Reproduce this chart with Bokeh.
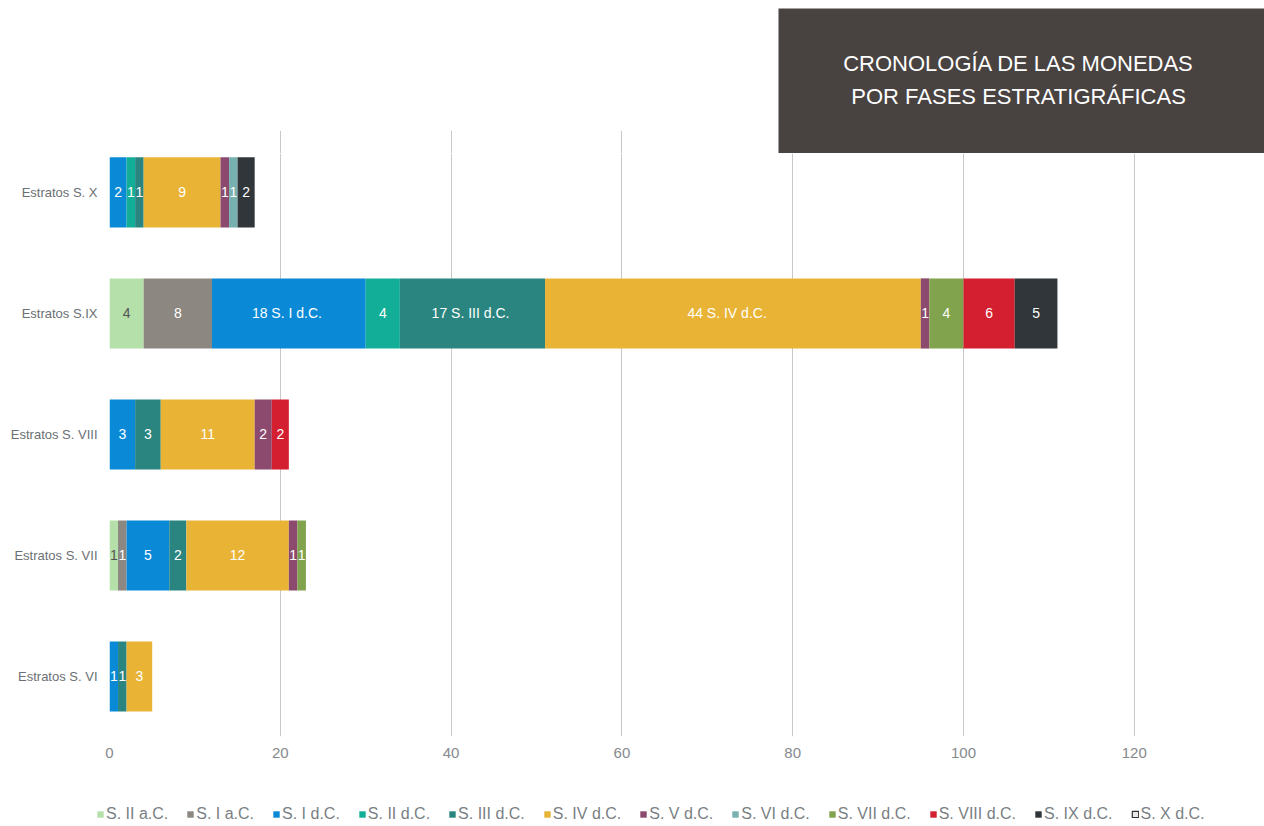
from bokeh.plotting import figure
from bokeh.models import (Range1d, Legend, LegendItem, FixedTicker, Spacer, ColumnDataSource, Grid)
from bokeh.layouts import column, row
from bokeh.core.properties import value
from bokeh.embed import file_html
from bokeh.resources import INLINE

FONT = "Liberation Sans"
BOX = "#484240"
GRID = "#c8c8c8"

categories = ["Estratos S. VI", "Estratos S. VII", "Estratos S. VIII", "Estratos S.IX", "Estratos S. X"]
series = ["S. II a.C.", "S. I a.C.", "S. I d.C.", "S. II d.C.", "S. III d.C.", "S. IV d.C.",
          "S. V d.C.", "S. VI d.C.", "S. VII d.C.", "S. VIII d.C.", "S. IX d.C.", "S. X d.C."]
colors = ["#b5e0a9", "#8c8781", "#0a8ad6", "#13ae97", "#2a8580", "#e9b436",
          "#8c4a6e", "#78b0b0", "#82a34d", "#d31f2f", "#31363a", "#e8e8e8"]
label_colors = ["#555555"] + ["#ffffff"] * 11

# values per series, in category order (S. VI, S. VII, S. VIII, S.IX, S. X)
s_ii_ac = [0, 1, 0, 4, 0]
s_i_ac = [0, 1, 0, 8, 0]
s_i_dc = [1, 5, 3, 18, 2]
s_ii_dc = [0, 0, 0, 4, 1]
s_iii_dc = [1, 2, 3, 17, 1]
s_iv_dc = [3, 12, 11, 44, 9]
s_v_dc = [0, 1, 2, 1, 1]
s_vi_dc = [0, 0, 0, 0, 1]
s_vii_dc = [0, 1, 0, 4, 0]
s_viii_dc = [0, 0, 2, 6, 0]
s_ix_dc = [0, 0, 0, 5, 2]
s_x_dc = [0, 0, 0, 0, 0]
values = [s_ii_ac, s_i_ac, s_i_dc, s_ii_dc, s_iii_dc, s_iv_dc,
          s_v_dc, s_vi_dc, s_vii_dc, s_viii_dc, s_ix_dc, s_x_dc]

# segments whose data label also shows the series name
named_category = "Estratos S.IX"
named_series = {"S. I d.C.": "  ", "S. III d.C.": "  ", "S. IV d.C.": "    "}

title_lines = ["CRONOLOGÍA DE LAS MONEDAS", "POR FASES ESTRATIGRÁFICAS"]
x_ticks = [0, 20, 40, 60, 80, 100, 120]

PX_PER_UNIT = 8.54

# ---------------- title box ----------------
tf = figure(width=486, height=145, x_range=Range1d(0, 1), y_range=Range1d(0, 1),
            output_backend="svg", toolbar_location=None, min_border=0)
tf.axis.visible = False
tf.grid.visible = False
tf.outline_line_color = None
tf.background_fill_color = BOX
tf.border_fill_color = BOX
tf.text(x=[0.494, 0.494], y=[0.621, 0.393], text=title_lines, text_align="center",
        text_baseline="middle", text_color="white", text_font_size="22px",
        text_font=value(FONT))

# grid continuation to the left of the title box (same x scale as the chart)
gs = figure(width=778, height=23, x_range=Range1d(0, (778 - 109) / PX_PER_UNIT),
            y_range=Range1d(0, 1), output_backend="svg", toolbar_location=None,
            min_border=0, min_border_left=109)
gs.axis.visible = False
gs.grid.visible = False
gs.outline_line_color = None
gs.add_layout(Grid(dimension=0, ticker=FixedTicker(ticks=x_ticks), grid_line_color=GRID,
                   grid_line_width=1))

top = row(column(Spacer(width=778, height=130), gs),
          column(Spacer(width=486, height=8), tf))

# ---------------- main chart ----------------
ypos = list(range(len(categories)))
p = figure(width=1264, height=617, y_range=Range1d(-0.496, 4.322),
           x_range=Range1d(0, (1264 - 109) / PX_PER_UNIT), output_backend="svg",
           toolbar_location=None, min_border_left=109, min_border_right=0,
           min_border_top=0, min_border_bottom=34)
p.outline_line_color = None
p.background_fill_color = "white"

left = [0] * len(categories)
for name, vals, col, lcol in zip(series, values, colors, label_colors):
    right = [l + v for l, v in zip(left, vals)]
    src = ColumnDataSource(dict(y=ypos, left=left, right=right))
    if name != "S. X d.C.":
        p.hbar(y="y", left="left", right="right", height=0.58, source=src,
               fill_color=col, line_color=None)
    tx, ty, tt = [], [], []
    for c, yi, l, rr, v in zip(categories, ypos, left, right, vals):
        if v > 0:
            txt = str(v)
            if c == named_category and name in named_series:
                txt = f"{v}{named_series[name]}{name}"
            tx.append((l + rr) / 2)
            ty.append(yi)
            tt.append(txt)
    if tt:
        p.text(x=tx, y=ty, text=tt, text_align="center", text_baseline="middle",
               text_color=lcol, text_font_size="14px", text_font=value(FONT))
    left = right

p.xgrid.grid_line_color = GRID
p.xgrid.grid_line_width = 1
p.ygrid.grid_line_color = None
p.xaxis.ticker = FixedTicker(ticks=x_ticks)
p.xaxis.axis_line_color = None
p.xaxis.major_tick_line_color = None
p.xaxis.minor_tick_line_color = None
p.xaxis.major_tick_out = 0
p.xaxis.major_tick_in = 0
p.xaxis.major_label_text_font = FONT
p.xaxis.major_label_text_font_size = "15px"
p.xaxis.major_label_text_color = "#858a8e"
p.xaxis.major_label_standoff = 11

p.yaxis.ticker = FixedTicker(ticks=ypos)
p.yaxis.major_label_overrides = {i: c for i, c in zip(ypos, categories)}
p.yaxis.axis_line_color = None
p.yaxis.major_tick_line_color = None
p.yaxis.minor_tick_line_color = None
p.yaxis.major_tick_out = 0
p.yaxis.major_tick_in = 0
p.yaxis.major_label_text_font = FONT
p.yaxis.major_label_text_font_size = "13px"
p.yaxis.major_label_text_color = "#6b7074"
p.yaxis.major_label_standoff = 12

# ---------------- legend strip ----------------
lf = figure(width=1264, height=56, x_range=Range1d(0, 1), y_range=Range1d(0, 1),
            output_backend="svg", toolbar_location=None, min_border=0)
lf.axis.visible = False
lf.grid.visible = False
lf.outline_line_color = None
items = []
for name, col in zip(series, colors):
    lc = "#333333" if name == "S. X d.C." else None
    r = lf.hbar(y=[-10], left=[0], right=[1], height=0.5, fill_color=col, line_color=lc,
                line_width=1.2)
    items.append(LegendItem(label=name, renderers=[r]))
legend = Legend(items=items, orientation="horizontal", location=(96, 3),
                glyph_width=8, glyph_height=8, label_standoff=2, spacing=18,
                label_text_font=FONT, label_text_font_size="16px",
                label_text_color="#7a7f84", border_line_alpha=0,
                background_fill_alpha=0, padding=0, margin=0)
lf.add_layout(legend, "center")

layout = column(top, p, row(lf))
open("out.html", "w").write(file_html(layout, INLINE))
